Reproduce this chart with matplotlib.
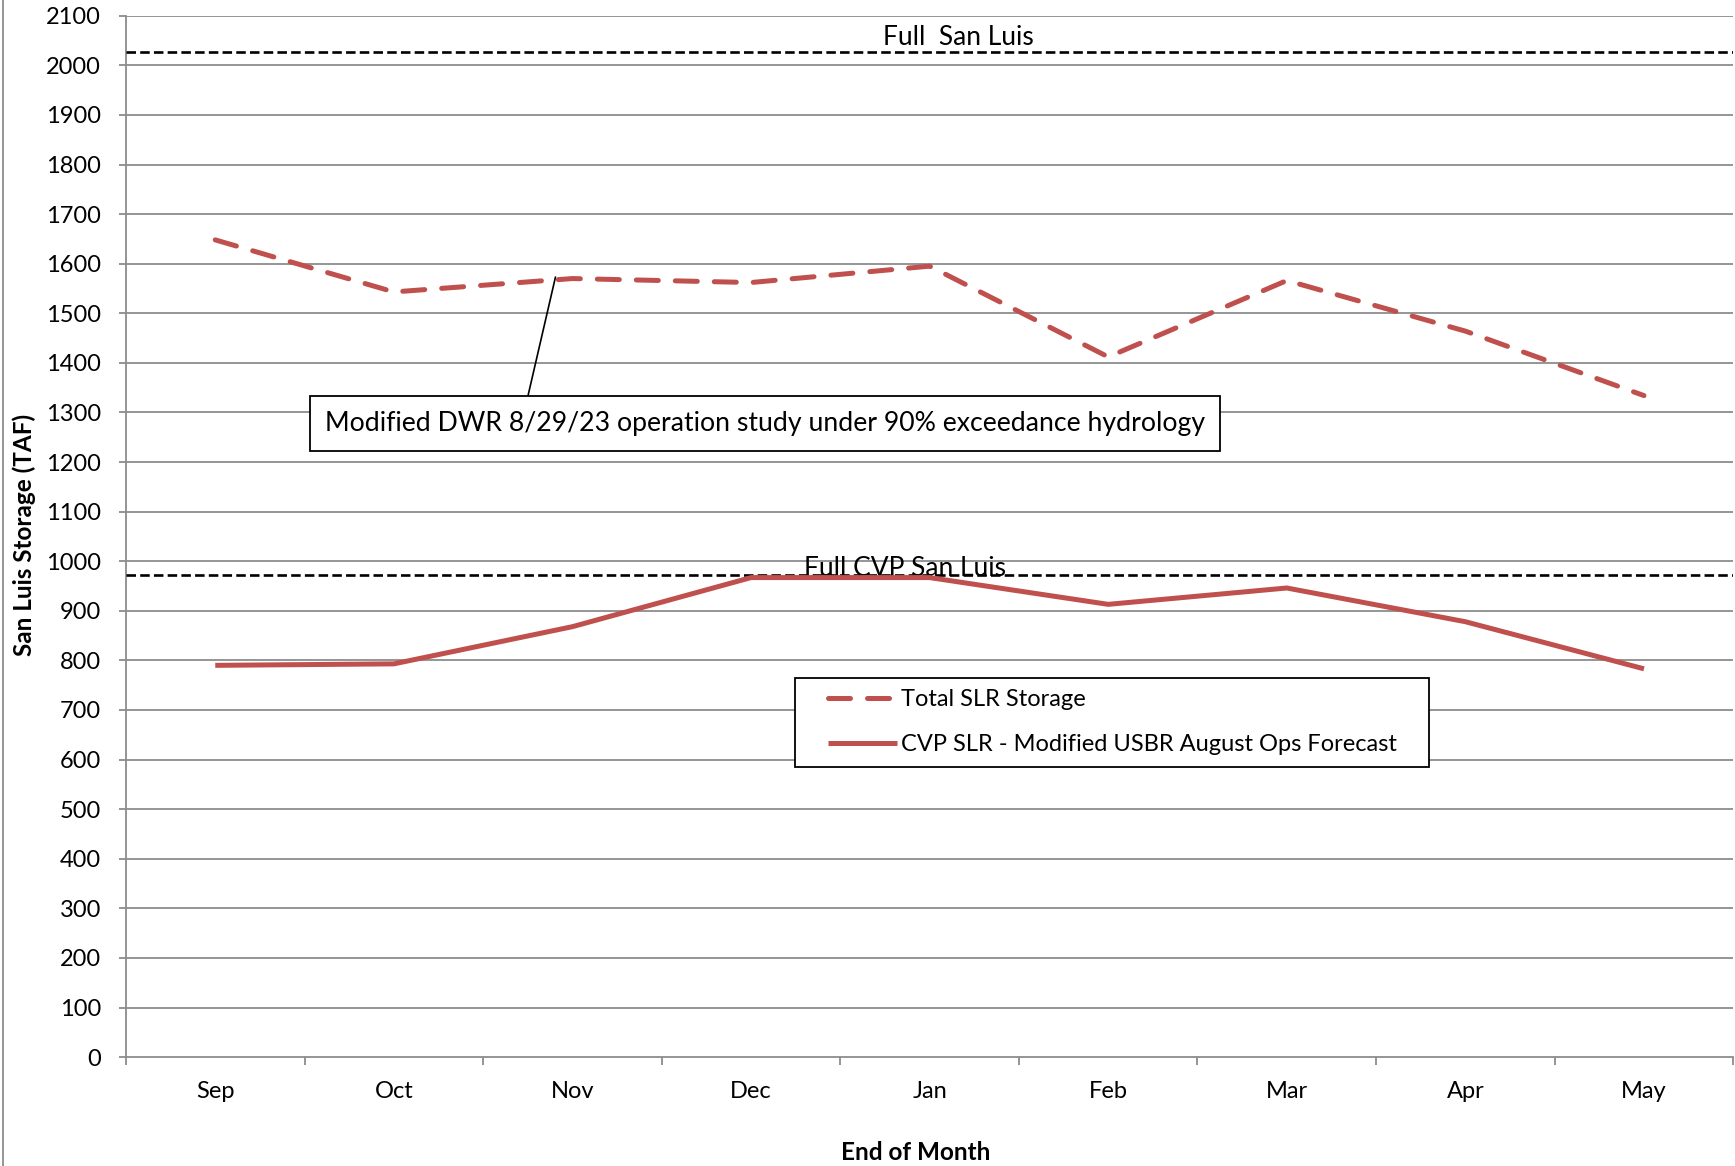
import matplotlib
matplotlib.use('Agg')
from matplotlib import pyplot as plt
from matplotlib.lines import Line2D
from matplotlib.patches import Rectangle

#Data

months = ['Sep', 'Oct', 'Nov', 'Dec', 'Jan', 'Feb', 'Mar', 'Apr', 'May']
total_slr = [1648, 1543, 1570, 1562, 1595, 1412, 1566, 1464, 1334]
cvp_slr = [790, 793, 868, 967, 967, 913, 946, 878, 783]
full_san_luis = 2027
full_cvp_san_luis = 973
y_ticks = list(range(0, 2101, 100))

red = '#C0504D'
grid_gray = '#8C8C8C'


def main():
    plt.rcParams['font.family'] = ['Lato', 'DejaVu Sans']

    fig = plt.figure(figsize=(17.35, 11.66), dpi=100)
    ax = fig.add_axes([0.0726, 0.0934, 0.9264, 0.8931])

    x = list(range(len(months)))

    #Horizontal grid
    for v in y_ticks[1:]:
        ax.axhline(v, color=grid_gray, lw=1.3, zorder=1)

    #Reference lines
    ax.axhline(full_san_luis, color='black', lw=1.9, dashes=(3.6, 1.6), zorder=3)
    ax.axhline(full_cvp_san_luis, color='black', lw=1.9, dashes=(3.6, 1.6), zorder=3)
    ax.text(4.16, full_san_luis + 4, 'Full  San Luis', ha='center', va='bottom', fontsize=19, zorder=4)
    ax.text(3.86, full_cvp_san_luis - 12, 'Full CVP San Luis', ha='center', va='bottom', fontsize=19, zorder=4)

    #Series
    ax.plot(x, total_slr, color=red, lw=3.6, dashes=(4.4, 3.4), dash_capstyle='round',
            label='Total SLR Storage', zorder=5)
    ax.plot(x, cvp_slr, color=red, lw=3.6, solid_capstyle='butt',
            label='CVP SLR - Modified USBR August Ops Forecast', zorder=5)

    #Callout for the dashed series
    ax.annotate('Modified DWR 8/29/23 operation study under 90% exceedance hydrology',
                xy=(1.905, 1573), xytext=(3.077, 1278), ha='center', va='center', fontsize=19.2,
                bbox=dict(boxstyle='square,pad=0.55', fc='white', ec='black', lw=1.3),
                arrowprops=dict(arrowstyle='-', color='black', lw=1.2, shrinkA=0, shrinkB=0,
                                relpos=(0.227, 1.0)),
                zorder=6)

    #Legend frame drawn separately so the entries sit centred in it
    legend_box = (0.416, 0.279, 0.395, 0.085)
    ax.add_patch(Rectangle(legend_box[:2], legend_box[2], legend_box[3], transform=ax.transAxes,
                           fc='white', ec='black', lw=1.3, zorder=7))
    leg = ax.legend(loc='center', bbox_to_anchor=(legend_box[0] + legend_box[2] / 2,
                                                  legend_box[1] + legend_box[3] / 2),
                    fontsize=17, frameon=False, handlelength=2.95, handletextpad=0.15,
                    borderpad=0, labelspacing=1.0, borderaxespad=0)
    leg.set_zorder(8)

    #Axes setup
    ax.set_xlim(-0.5, len(months) - 0.5)
    ax.set_ylim(0, 2100)
    ax.set_yticks(y_ticks)
    ax.set_xticks(x)
    ax.set_xticklabels(months)
    ax.set_xticks([i - 0.5 for i in range(len(months) + 1)], minor=True)
    ax.tick_params(axis='x', which='major', length=0, pad=17, labelsize=17)
    ax.tick_params(axis='x', which='minor', length=6, width=1.3, color=grid_gray, direction='out')
    ax.tick_params(axis='y', length=5, width=1.3, color=grid_gray, pad=13, labelsize=17)

    for side in ['top', 'right']:
        ax.spines[side].set_visible(False)
    for side in ['left', 'bottom']:
        ax.spines[side].set_color(grid_gray)
        ax.spines[side].set_linewidth(1.3)

    fig.text(0.014, 0.541, 'San Luis Storage (TAF)', rotation=90, ha='center', va='center',
             fontsize=17.5, fontweight='bold')
    fig.text(0.528, 0.012, 'End of Month', ha='center', va='center', fontsize=17.5, fontweight='bold')

    #Outer chart border on the left
    fig.add_artist(Line2D([0.0017, 0.0017], [0, 1], transform=fig.transFigure, color=grid_gray, lw=1.3))

    fig.savefig('out.png', dpi=100, facecolor='white')


if __name__ == '__main__':
    main()
